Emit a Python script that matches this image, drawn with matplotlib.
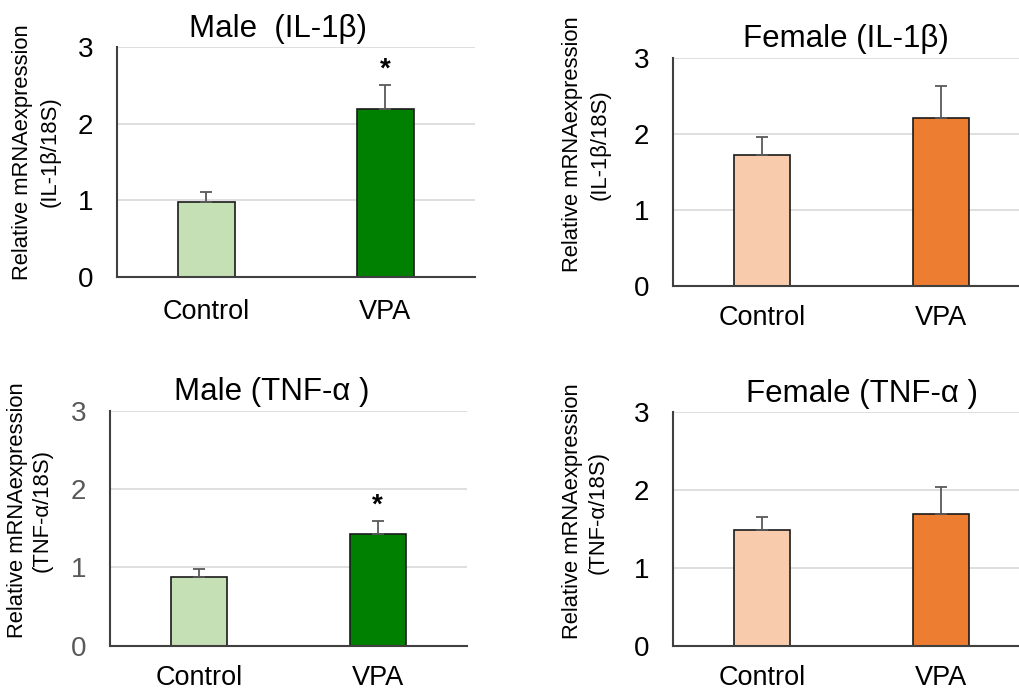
import matplotlib
matplotlib.use("Agg")
import matplotlib.pyplot as plt
import numpy as np

plt.rcParams['font.family'] = ['Liberation Sans', 'DejaVu Sans']

categories = ["Control", "VPA"]

male_il1b = [0.98, 2.19]
male_il1b_err = [0.13, 0.32]
female_il1b = [1.73, 2.21]
female_il1b_err = [0.23, 0.43]
male_tnfa = [0.88, 1.43]
male_tnfa_err = [0.10, 0.16]
female_tnfa = [1.49, 1.69]
female_tnfa_err = [0.16, 0.35]

yticks = [0, 1, 2, 3]

titles = ["Male  (IL-1β)", "Female (IL-1β)", "Male (TNF-α )", "Female (TNF-α )"]
ylab1 = "Relative mRNAexpression"
ylab2 = ["(IL-1β/18S)", "(IL-1β/18S)", "(TNF-α/18S)", "(TNF-α/18S)"]
signif = [[False, True], [False, False], [False, True], [False, False]]

green = ["#C5E0B4", "#008000"]
orange = ["#F8CBAD", "#ED7D31"]

W, H = 1020, 690
fig = plt.figure(figsize=(W / 100, H / 100), dpi=100)

def px_rect(l, r, t, b):
    return [l / W, 1 - b / H, (r - l) / W, (b - t) / H]

panels = [
    dict(rect=px_rect(117, 475, 47, 277), vals=male_il1b, err=male_il1b_err, colors=green,
         title_xy=(278, 29), yl1=(23, 152), yl2=(50, 152), tickcol="black", xpad=16),
    dict(rect=px_rect(673, 1030, 58.3, 286), vals=female_il1b, err=female_il1b_err, colors=orange,
         title_xy=(846, 39), yl1=(573, 144), yl2=(600, 145), tickcol="black", xpad=14),
    dict(rect=px_rect(110, 467, 411, 645.7), vals=male_tnfa, err=male_tnfa_err, colors=green,
         title_xy=(272, 392), yl1=(18, 510), yl2=(42, 511), tickcol="#595959", xpad=14),
    dict(rect=px_rect(673, 1030, 412.3, 645.7), vals=female_tnfa, err=female_tnfa_err, colors=orange,
         title_xy=(862, 394), yl1=(573, 511), yl2=(598, 512), tickcol="black", xpad=14),
]

for i, p in enumerate(panels):
    ax = fig.add_axes(p["rect"])
    x = np.arange(len(categories))
    ax.set_xlim(-0.5, 1.5)
    ax.set_ylim(0, 3)
    ax.set_yticks(yticks)
    ax.grid(axis='y', color='#D9D9D9', linewidth=1.2, zorder=0)
    ax.set_axisbelow(True)
    ax.bar(x, p["vals"], width=0.315, color=p["colors"], edgecolor='#1a1a1a',
           linewidth=1.2, zorder=2)
    ax.errorbar(x, p["vals"], yerr=[np.zeros(len(x)), p["err"]], fmt='none',
                ecolor='#595959', elinewidth=1.3, capsize=4, capthick=1.3, zorder=3)
    for s in ['top', 'right']:
        ax.spines[s].set_visible(False)
    for s in ['left', 'bottom']:
        ax.spines[s].set_color('#404040')
        ax.spines[s].set_linewidth(1.5)
        ax.spines[s].set_zorder(4)
    ax.set_xticks(x)
    ax.set_xticklabels(categories, fontsize=19.5)
    ax.tick_params(axis='x', length=0, pad=p["xpad"])
    ax.tick_params(axis='y', length=0, pad=17, labelsize=20, labelcolor=p["tickcol"])
    for j in range(len(x)):
        if signif[i][j]:
            ax.text(x[j], p["vals"][j] + p["err"][j] + 0.2, "*", ha='center', va='center',
                    fontsize=20, fontweight='bold', color='black')
    tx, ty = p["title_xy"]
    fig.text(tx / W, 1 - ty / H, titles[i], ha='center', va='center', fontsize=22.5)
    fig.text(p["yl1"][0] / W, 1 - p["yl1"][1] / H, ylab1, rotation=90, ha='center',
             va='center', fontsize=15.8)
    fig.text(p["yl2"][0] / W, 1 - p["yl2"][1] / H, ylab2[i], rotation=90, ha='center',
             va='center', fontsize=15.8)

fig.savefig("out.png", dpi=100)
